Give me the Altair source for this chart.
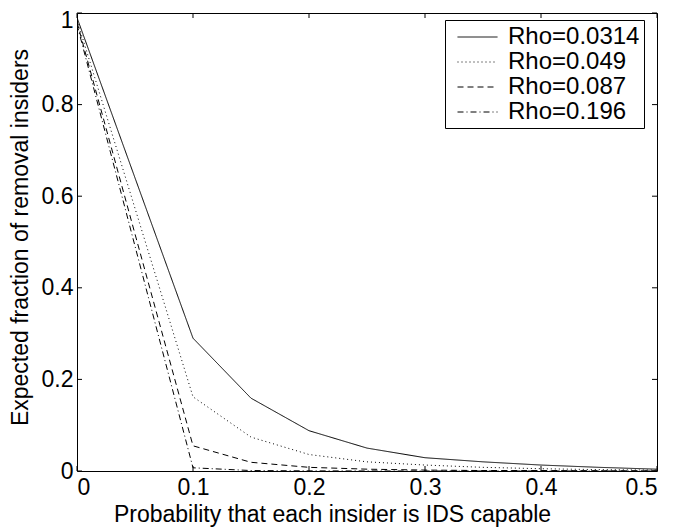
import altair as alt
import pandas as pd

FONT = "Liberation Sans"

series_labels = ["Rho=0.0314", "Rho=0.049", "Rho=0.087", "Rho=0.196"]
x_vals = [0, 0.1, 0.15, 0.2, 0.25, 0.3, 0.35, 0.4, 0.45, 0.5]
y_0314 = [0.99, 0.29, 0.159, 0.088, 0.05, 0.029, 0.02, 0.013, 0.008, 0.004]
y_049 = [0.985, 0.162, 0.074, 0.036, 0.02, 0.013, 0.008, 0.005, 0.003, 0.002]
y_087 = [0.98, 0.055, 0.019, 0.008, 0.004, 0.002, 0.001, 0.001, 0.0005, 0.0003]
y_196 = [0.975, 0.007, 0.001, 0.0003, 0.0001, 0.0, 0.0, 0.0, 0.0, 0.0]
dash_styles = [[1, 0], [1, 3], [6, 4], [6, 3, 1, 3]]

x_ticks = [0, 0.1, 0.2, 0.3, 0.4, 0.5]
y_ticks = [0, 0.2, 0.4, 0.6, 0.8, 1.0]

rows = []
for lab, ys in zip(series_labels, [y_0314, y_049, y_087, y_196]):
    for xv, yv in zip(x_vals, ys):
        rows.append({"x": xv, "y": yv, "series": lab})
df = pd.DataFrame(rows)
xt = pd.DataFrame({"x": x_ticks})
yt = pd.DataFrame({"y": y_ticks})

W, H = 580, 458

xscale = alt.Scale(domain=[0, 0.5], nice=False, zero=False)
yscale = alt.Scale(domain=[0, 1], nice=False, zero=False)

lines = alt.Chart(df).mark_line(color="black", strokeWidth=1, clip=True).encode(
    x=alt.X("x:Q", scale=xscale,
            axis=alt.Axis(values=x_ticks, format="~g", titleX=255, titleAlign="center",
                          title="Probability that each insider is IDS capable")),
    y=alt.Y("y:Q", scale=yscale,
            axis=alt.Axis(values=y_ticks, format="~g", titleY=224,
                          labelBaseline={"condition": {"test": "datum.value == 1", "value": "top"},
                                         "value": "middle"},
                          labelOffset={"condition": {"test": "datum.value == 1", "value": -4},
                                       "value": 0},
                          title="Expected fraction of removal insiders")),
    strokeDash=alt.StrokeDash("series:N",
                              scale=alt.Scale(domain=series_labels, range=dash_styles),
                              legend=alt.Legend(title=None)),
    detail="series:N",
)

tick_style = dict(color="black", strokeWidth=1)
bottom_ticks = alt.Chart(xt).mark_rule(**tick_style).encode(
    x="x:Q", y=alt.value(H), y2=alt.value(H - 5))
top_ticks = alt.Chart(xt).mark_rule(**tick_style).encode(
    x="x:Q", y=alt.value(0), y2=alt.value(5))
left_ticks = alt.Chart(yt).mark_rule(**tick_style).encode(
    y="y:Q", x=alt.value(0), x2=alt.value(5))
right_ticks = alt.Chart(yt).mark_rule(**tick_style).encode(
    y="y:Q", x=alt.value(W), x2=alt.value(W - 5))

chart = alt.layer(lines, bottom_ticks, top_ticks, left_ticks, right_ticks).properties(
    width=W, height=H,
    autosize=alt.AutoSizeParams(type="none"),
    padding={"left": 69, "top": 5, "right": 25, "bottom": 58},
).configure_view(
    stroke="black", strokeWidth=1
).configure_axis(
    domain=False, ticks=False, tickSize=0, grid=False,
    labelFont=FONT, labelFontSize=23, labelColor="black",
    titleFont=FONT, titleFontSize=23, titleColor="black", titleFontWeight="normal",
).configure_axisX(
    labelPadding=5, titlePadding=4,
).configure_axisY(
    labelPadding=4, titlePadding=9,
).configure_legend(
    orient="none", legendX=368, legendY=7,
    strokeColor="black", fillColor="white", padding=4,
    labelFont=FONT, labelFontSize=24, labelColor="black",
    symbolType="M-1.6,0H1.6", symbolSize=625, symbolStrokeWidth=1,
    symbolFillColor="transparent",
    symbolStrokeColor="black", rowPadding=-0.5, symbolOffset=15.5, labelOffset=17.5,
)

chart.save("out.html", embed_options={"renderer": "svg", "actions": False})
